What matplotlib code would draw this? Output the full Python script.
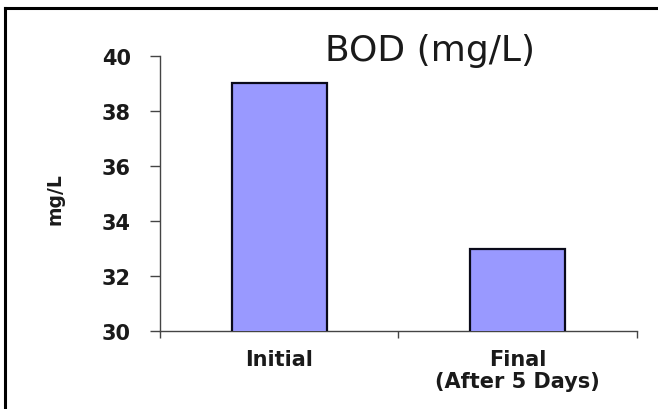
import matplotlib
matplotlib.use("Agg")
import matplotlib.pyplot as plt
from matplotlib.lines import Line2D

# BOD readings, mg/L
categories = ["Initial", "Final\n(After 5 Days)"]
bod_values = [39, 33]
y_ticks = [30, 32, 34, 36, 38, 40]

fig = plt.figure(figsize=(6.58, 4.10), dpi=100)
ax = fig.add_axes([0.2432, 0.1902, 0.7248, 0.6708])

pos = list(range(len(categories)))
ax.bar(pos, bod_values, width=0.4, color="#9999ff", edgecolor="#0a0a1a",
       linewidth=1.6, zorder=3)

ax.set_xlim(-0.5, len(categories) - 0.5)
ax.set_ylim(30, 40)
ax.set_yticks(y_ticks)
ax.set_yticklabels([str(v) for v in y_ticks], fontsize=15, fontweight="bold",
                   color="#1a1a1a")

# category labels at bar centres, tick marks between categories
ax.set_xticks([p - 0.5 for p in pos] + [pos[-1] + 0.5])
ax.set_xticklabels([])
ax.set_xticks(pos, categories, minor=True)
for lab in ax.get_xticklabels(minor=True):
    lab.set_fontsize(15)
    lab.set_fontweight("bold")
    lab.set_color("#1a1a1a")
    lab.set_linespacing(1.15)
ax.tick_params(axis="x", which="minor", length=0, pad=13)
ax.tick_params(axis="x", which="major", direction="out", length=5, width=1,
               color="#444444")
ax.tick_params(axis="y", direction="out", length=7, width=1, pad=14,
               color="#444444")

for side in ("top", "right"):
    ax.spines[side].set_visible(False)
for side in ("left", "bottom"):
    ax.spines[side].set_color("#444444")
    ax.spines[side].set_linewidth(1.0)

ax.set_ylabel("mg/L", fontsize=13.5, fontweight="bold", color="#1a1a1a")
ax.yaxis.label.set_va("center")
ax.yaxis.set_label_coords(-0.22, 0.484)

fig.text(0.6535, 0.876, "BOD (mg/L)", fontsize=26, ha="center", va="center",
         color="#1a1a1a")

# frame along the top and left edges
fig.add_artist(Line2D([0.0076, 0.0076], [0.0, 0.978], transform=fig.transFigure,
                      color="black", linewidth=2.2))
fig.add_artist(Line2D([0.0076, 1.0], [0.978, 0.978], transform=fig.transFigure,
                      color="black", linewidth=2.2))

fig.savefig("out.png", dpi=100)
